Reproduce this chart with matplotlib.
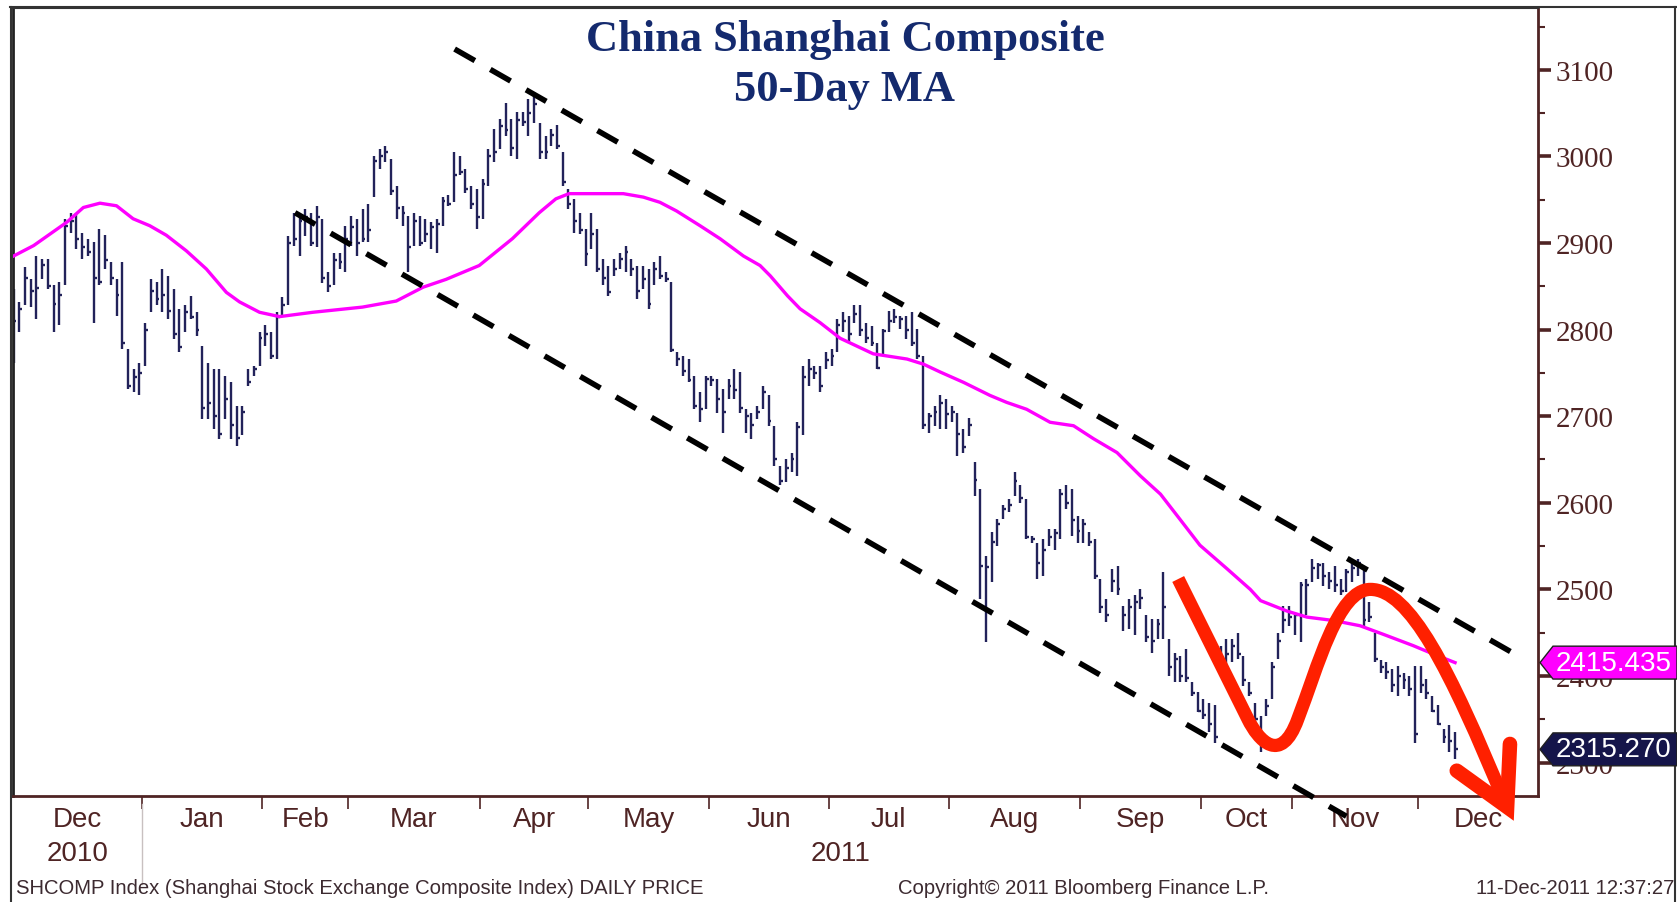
import numpy as np
import matplotlib.pyplot as plt
import matplotlib.transforms as mtransforms
from matplotlib.path import Path
from matplotlib.patches import PathPatch, Polygon
from matplotlib.lines import Line2D
from matplotlib.ticker import MultipleLocator

W, H = 1677, 903

# months on the axis and number of trading days in each (Dec-2010 .. 9-Dec-2011)
months = ['Dec', 'Jan', 'Feb', 'Mar', 'Apr', 'May', 'Jun', 'Jul', 'Aug', 'Sep', 'Oct', 'Nov', 'Dec']
month_days = [23, 21, 15, 23, 19, 21, 21, 21, 23, 21, 16, 22, 7]
years = ['2010', '2011']

# daily bars
high = [2847, 2832, 2872, 2858, 2885, 2882, 2882, 2851, 2855, 2928,
        2935, 2935, 2912, 2905, 2901, 2916, 2909, 2878, 2858, 2878,
        2778, 2755, 2762, 2808, 2858, 2855, 2870, 2862, 2847, 2824,
        2828, 2839, 2820, 2781, 2762, 2755, 2755, 2747, 2739, 2712,
        2712, 2755, 2758, 2797, 2805, 2797, 2820, 2838, 2908, 2935,
        2931, 2939, 2935, 2943, 2928, 2866, 2889, 2889, 2920, 2931,
        2928, 2939, 2945, 3001, 3009, 3012, 2997, 2966, 2943, 2931,
        2935, 2931, 2928, 2924, 2928, 2953, 2955, 3005, 3001, 2985,
        2966, 2962, 2974, 3009, 3032, 3043, 3062, 3043, 3051, 3051,
        3066, 3074, 3039, 3024, 3032, 3036, 3005, 2962, 2951, 2935,
        2916, 2935, 2916, 2882, 2874, 2882, 2889, 2897, 2882, 2874,
        2874, 2870, 2878, 2885, 2866, 2855, 2774, 2770, 2766, 2747,
        2728, 2747, 2747, 2743, 2731, 2743, 2755, 2751, 2708, 2704,
        2712, 2735, 2724, 2689, 2643, 2651, 2658, 2693, 2758, 2766,
        2758, 2758, 2774, 2778, 2812, 2820, 2816, 2828, 2828, 2808,
        2804, 2785, 2801, 2822, 2824, 2816, 2816, 2820, 2801, 2770,
        2704, 2712, 2724, 2720, 2712, 2704, 2685, 2698, 2647, 2616,
        2539, 2566, 2581, 2597, 2604, 2635, 2620, 2604, 2562, 2554,
        2558, 2570, 2570, 2616, 2620, 2616, 2585, 2581, 2566, 2558,
        2512, 2489, 2524, 2527, 2481, 2489, 2493, 2500, 2470, 2466,
        2466, 2520, 2443, 2427, 2423, 2431, 2393, 2381, 2373, 2369,
        2366, 2435, 2443, 2443, 2450, 2423, 2393, 2369, 2354, 2373,
        2416, 2450, 2481, 2481, 2473, 2508, 2512, 2535, 2531, 2531,
        2520, 2527, 2512, 2524, 2531, 2535, 2524, 2485, 2450, 2419,
        2416, 2408, 2412, 2404, 2400, 2412, 2412, 2396, 2377, 2366,
        2339, 2343, 2335]
low = [2762, 2797, 2828, 2826, 2812, 2858, 2847, 2797, 2805, 2851,
       2912, 2893, 2882, 2885, 2808, 2851, 2870, 2851, 2816, 2778,
       2731, 2728, 2724, 2758, 2820, 2828, 2820, 2812, 2789, 2774,
       2797, 2812, 2793, 2697, 2697, 2685, 2674, 2697, 2674, 2666,
       2678, 2735, 2747, 2758, 2781, 2766, 2766, 2815, 2828, 2897,
       2885, 2908, 2897, 2895, 2854, 2843, 2851, 2870, 2866, 2897,
       2885, 2901, 2901, 2953, 2985, 2993, 2955, 2928, 2920, 2866,
       2897, 2897, 2901, 2893, 2889, 2920, 2943, 2947, 2978, 2958,
       2939, 2916, 2928, 2966, 2993, 3009, 3024, 3001, 2997, 3035,
       3024, 3039, 2997, 2997, 3012, 3009, 2966, 2939, 2912, 2910,
       2874, 2893, 2866, 2851, 2839, 2862, 2870, 2866, 2862, 2835,
       2847, 2824, 2851, 2858, 2855, 2774, 2758, 2747, 2739, 2708,
       2693, 2708, 2735, 2704, 2681, 2720, 2720, 2704, 2681, 2674,
       2697, 2708, 2689, 2643, 2620, 2624, 2635, 2631, 2678, 2735,
       2743, 2728, 2755, 2758, 2774, 2797, 2785, 2808, 2793, 2785,
       2781, 2754, 2770, 2797, 2808, 2801, 2789, 2781, 2766, 2685,
       2681, 2689, 2685, 2685, 2693, 2654, 2658, 2677, 2608, 2489,
       2439, 2508, 2550, 2581, 2589, 2608, 2600, 2558, 2554, 2512,
       2516, 2550, 2546, 2558, 2593, 2562, 2554, 2554, 2550, 2512,
       2473, 2462, 2497, 2493, 2452, 2454, 2447, 2477, 2439, 2427,
       2443, 2443, 2400, 2393, 2393, 2393, 2377, 2358, 2350, 2335,
       2323, 2412, 2412, 2416, 2420, 2389, 2377, 2343, 2312, 2354,
       2373, 2420, 2450, 2458, 2447, 2439, 2470, 2508, 2512, 2504,
       2500, 2497, 2493, 2497, 2508, 2516, 2458, 2462, 2416, 2404,
       2396, 2381, 2377, 2385, 2377, 2323, 2380, 2373, 2358, 2343,
       2323, 2312, 2304]
close = [2810, 2824, 2860, 2845, 2848, 2875, 2850, 2830, 2840, 2920,
         2925, 2905, 2895, 2890, 2860, 2855, 2880, 2860, 2840, 2785,
         2735, 2745, 2750, 2800, 2845, 2835, 2840, 2822, 2795, 2780,
         2820, 2815, 2800, 2710, 2715, 2700, 2680, 2720, 2690, 2675,
         2705, 2740, 2755, 2790, 2795, 2770, 2815, 2828, 2900, 2905,
         2925, 2930, 2900, 2930, 2860, 2850, 2880, 2878, 2905, 2918,
         2900, 2905, 2915, 2995, 3000, 3005, 2960, 2940, 2935, 2895,
         2925, 2900, 2910, 2918, 2922, 2948, 2945, 2978, 2982, 2962,
         2945, 2930, 2968, 3000, 3005, 3035, 3030, 3010, 3042, 3040,
         3050, 3060, 3005, 3005, 3025, 3012, 2970, 2945, 2925, 2915,
         2887, 2910, 2870, 2860, 2843, 2870, 2882, 2890, 2870, 2845,
         2858, 2830, 2870, 2862, 2858, 2776, 2766, 2752, 2742, 2712,
         2708, 2743, 2742, 2720, 2705, 2735, 2730, 2710, 2700, 2690,
         2705, 2728, 2695, 2650, 2625, 2640, 2650, 2688, 2745, 2755,
         2750, 2735, 2765, 2770, 2805, 2810, 2795, 2818, 2800, 2790,
         2785, 2756, 2798, 2810, 2815, 2812, 2800, 2785, 2770, 2690,
         2700, 2705, 2715, 2702, 2705, 2680, 2665, 2690, 2626, 2527,
         2526, 2555, 2575, 2593, 2598, 2625, 2605, 2560, 2558, 2530,
         2545, 2560, 2565, 2610, 2600, 2580, 2568, 2575, 2555, 2515,
         2480, 2470, 2510, 2500, 2470, 2480, 2485, 2490, 2445, 2440,
         2460, 2480, 2410, 2420, 2400, 2398, 2380, 2360, 2355, 2345,
         2330, 2420, 2425, 2435, 2425, 2395, 2380, 2350, 2320, 2365,
         2410, 2440, 2465, 2468, 2470, 2505, 2505, 2525, 2528, 2515,
         2510, 2505, 2498, 2520, 2525, 2530, 2465, 2468, 2420, 2410,
         2405, 2390, 2400, 2395, 2385, 2333, 2390, 2380, 2360, 2345,
         2330, 2325, 2315.27]

# 50-day moving average read at sample days
ma_day = [0, 3.5, 9.3, 12.2, 15.1, 18, 20.9, 23.8, 26.7, 30.2, 33.7, 37.2, 39.5, 43,
          46.5, 52.3, 61, 66.9, 71.6, 75.6, 81.4, 87.2, 91.9, 94.8, 97.1, 101.4, 106.6,
          110.1, 113, 115.9, 120, 123.5, 127.6, 130.5, 132.3, 135.3, 137.5, 141, 144.5,
          150.3, 156.2, 159.1, 162, 166.1, 170.7, 173.6, 177.1, 181.2, 185.3, 188.8,
          192.9, 197, 200.5, 203.9, 207.4, 212.1, 216.2, 218, 222.6, 226.1, 230.8,
          235.4, 239.5, 244.7, 247.6, 252]
ma_val = [2885, 2897, 2924, 2941, 2946, 2943, 2928, 2920, 2909, 2891, 2870, 2843, 2832, 2820,
          2815, 2820, 2826, 2833, 2849, 2858, 2874, 2905, 2935, 2951, 2957, 2957, 2957,
          2953, 2947, 2937, 2920, 2905, 2885, 2874, 2862, 2839, 2824, 2808, 2790,
          2772, 2766, 2760, 2751, 2739, 2724, 2716, 2708, 2693, 2689, 2674,
          2658, 2631, 2610, 2581, 2551, 2524, 2500, 2487, 2475, 2468, 2464,
          2458, 2448, 2435, 2427, 2415.435]

last_ma = 2415.435
last_px = 2315.270

# hand drawn trend channel (day, level)
upper_day = [77.1, 262.0]
upper_lvl = [3124, 2427]
lower_day = [49.2, 233.0]
lower_lvl = [2935, 2238]

navy = '#22225a'
brown = '#4f2424'
red = '#ff2000'
narrow = ['Liberation Sans Narrow', 'Liberation Sans']

fig = plt.figure(figsize=(W / 100, H / 100), dpi=100)
ax = fig.add_axes([13 / W, 1 - 797 / H, (1538 - 13) / W, (797 - 9) / H])

days = np.arange(len(close))
ax.vlines(days, low, high, color=navy, lw=1.7, zorder=2)
ax.hlines(close, days, days + 0.5, color=navy, lw=1.7, zorder=2)
ax.plot(ma_day, ma_val, color='#ff00ff', lw=2.4, zorder=3)

for d, v in ((upper_day, upper_lvl), (lower_day, lower_lvl)):
    ax.plot(d, v, color='black', lw=4.0, ls=(0, (4.2, 3.2)), dash_capstyle='butt',
            clip_on=False, zorder=4)

# red wave + arrow
verts = [(203.6, 2512), (215.8, 2350),
         (217.6, 2326), (221.5, 2296), (224.5, 2350),
         (228, 2410), (231.5, 2500), (237.2, 2500),
         (244, 2500), (251, 2410), (260.8, 2252)]
codes = [Path.MOVETO, Path.LINETO] + [Path.CURVE4] * 9
ax.add_patch(PathPatch(Path(verts, codes), fill=False, edgecolor=red, lw=9.5,
                       capstyle='butt', joinstyle='round', clip_on=False, zorder=5))
ax.plot([252.3, 261.1, 261.6], [2290.6, 2248.7, 2321.5], color=red, lw=10.5,
        solid_capstyle='round', solid_joinstyle='miter', clip_on=False, zorder=5)

ax.set_xlim(-0.1, 266.5)
ax.set_ylim(2261.4, 3171.4)

# x axis: ticks at month boundaries, labels centred on each month
starts = np.concatenate([[0], np.cumsum(month_days)[:-1]])
bounds = starts[1:] - 0.5
centers = (np.concatenate([[-0.1], bounds]) + np.concatenate([bounds, [266.5]])) / 2
ax.set_xticks(bounds)
ax.set_xticklabels([])
ax.set_xticks(centers, minor=True)
ax.set_xticklabels(months, minor=True, family=narrow, fontsize=20, color=brown)
ax.tick_params(axis='x', which='major', direction='out', length=9, width=1.2, color=brown)
ax.tick_params(axis='x', which='minor', length=0, pad=7)

# y axis on the right
ax.yaxis.tick_right()
ax.set_yticks(np.arange(2300, 3101, 100))
ax.yaxis.set_minor_locator(MultipleLocator(50))
ax.tick_params(axis='y', which='major', direction='out', length=9, width=2.6, color=brown,
               labelsize=21, labelcolor=brown, pad=4)
ax.tick_params(axis='y', which='minor', direction='out', length=5, width=1.5, color=brown)
for lab in ax.get_yticklabels():
    lab.set_family('Liberation Serif')

for side in ('right', 'bottom'):
    ax.spines[side].set_color(brown)
    ax.spines[side].set_linewidth(2)
ax.spines['left'].set_color('#222222')
ax.spines['left'].set_linewidth(2)
ax.spines['top'].set_color('#333333')
ax.spines['top'].set_linewidth(1.5)

# year row
yt = mtransforms.blended_transform_factory(ax.transData, fig.transFigure)
ax.text(centers[0], 1 - 854 / H, years[0], transform=yt, ha='center', va='center',
        fontsize=20, color=brown, family=narrow)
ax.text((bounds[0] + 266.5) / 2, 1 - 854 / H, years[1], transform=yt, ha='center', va='center',
        fontsize=20, color=brown, family=narrow)
ax.add_line(Line2D([bounds[0], bounds[0]], [1 - 805 / H, 1 - 885 / H], transform=yt,
                   color='#c8c0c0', lw=1, clip_on=False))

# last-value tags
bt = mtransforms.blended_transform_factory(fig.transFigure, ax.transData)
for val, col in ((last_ma, '#ff00ff'), (last_px, '#15154a')):
    hh = 19
    x0, x1 = 1540 / W, 1553 / W
    fig.add_artist(Polygon([(x0, val), (x1, val + hh), (1.0, val + hh), (1.0, val - hh),
                            (x1, val - hh)], closed=True, transform=bt, facecolor=col,
                           edgecolor='#202020', lw=1, zorder=10))
    fig.text(1556 / W, val, f'{val:.3f}', transform=bt, ha='left', va='center',
             fontsize=20, color='white', family='Liberation Sans', zorder=11)

# title
fig.text(845 / W, 1 - 40 / H, 'China Shanghai Composite', ha='center', va='center',
         fontsize=32, color='#142a6e', family='Liberation Serif', weight='bold')
fig.text(845 / W, 1 - 90 / H, '50-Day MA', ha='center', va='center',
         fontsize=32, color='#142a6e', family='Liberation Serif', weight='bold')

# footer
foot = dict(fontsize=14.6, color='#3c2a30', va='center', family=narrow)
fig.text(16 / W, 1 - 889 / H, 'SHCOMP Index (Shanghai Stock Exchange Composite Index) DAILY PRICE',
         ha='left', **foot)
fig.text(1083 / W, 1 - 889 / H, 'Copyright\u00a9 2011 Bloomberg Finance L.P.', ha='center', **foot)
fig.text(1674 / W, 1 - 889 / H, '11-Dec-2011 12:37:27', ha='right', **foot)

# outer frame
for xs, ys in (([10, 1676], [8, 8]), ([11, 11], [8, 903]), ([1675, 1675], [8, 903])):
    fig.add_artist(Line2D([x / W for x in xs], [1 - y / H for y in ys],
                          transform=fig.transFigure, color='#333333', lw=1.5))

fig.savefig('out.png', dpi=100)
